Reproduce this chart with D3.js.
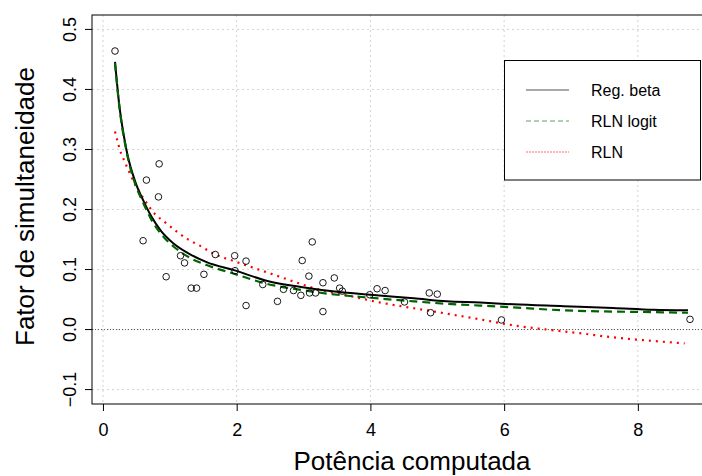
<!DOCTYPE html>
<html>
<head>
<meta charset="utf-8">
<script src="https://cdn.jsdelivr.net/npm/d3@7"></script>
<style>
  body { margin: 0; background: #fff; }
  svg { font-family: "Liberation Sans", Arial, sans-serif; }
</style>
</head>
<body>
<svg id="chart" width="702" height="476"></svg>
<script>
// observed points (potencia, fator)
const pontosX = [0.18, 0.60, 0.65, 0.83, 0.84, 0.945, 1.16, 1.22, 1.32, 1.40, 1.51, 1.68, 1.97, 1.975,
  2.14, 2.14, 2.39, 2.61, 2.70, 2.85, 2.96, 2.98, 3.08, 3.09, 3.13, 3.18, 3.29, 3.29, 3.46, 3.54,
  3.58, 3.99, 4.10, 4.22, 4.51, 4.88, 4.90, 5.00, 5.96, 8.78];
const pontosY = [0.464, 0.148, 0.249, 0.221, 0.276, 0.088, 0.123, 0.111, 0.069, 0.069, 0.092, 0.125, 0.123, 0.098,
  0.114, 0.040, 0.075, 0.047, 0.067, 0.065, 0.057, 0.115, 0.089, 0.061, 0.146, 0.061, 0.078, 0.030, 0.086, 0.069,
  0.064, 0.058, 0.068, 0.065, 0.046, 0.061, 0.028, 0.059, 0.016, 0.017];

// fitted curves
const betaX = [0.18, 0.24, 0.35, 0.49, 0.59, 0.72, 0.87, 1.06, 1.31, 1.56, 1.96, 2.46, 2.96, 3.50, 4.00, 4.65, 5.14, 5.64, 6.14, 6.89, 7.63, 8.23, 8.75];
const betaY = [0.446, 0.378, 0.300, 0.244, 0.218, 0.189, 0.164, 0.143, 0.125, 0.112, 0.099, 0.081, 0.071, 0.063, 0.058, 0.052, 0.047, 0.045, 0.042, 0.039, 0.036, 0.033, 0.032];

const logitX = betaX;
const logitY = [0.444, 0.376, 0.298, 0.240, 0.214, 0.184, 0.159, 0.138, 0.119, 0.107, 0.093, 0.076, 0.066, 0.058, 0.053, 0.047, 0.043, 0.040, 0.037, 0.032, 0.030, 0.029, 0.028];

const rlnX = [0.18, 0.27, 0.32, 0.47, 0.67, 0.72, 0.97, 1.26, 1.46, 1.66, 1.96, 2.46, 2.96, 3.15, 3.65, 4.15, 4.90, 5.64, 6.14, 6.64, 7.13, 7.63, 8.23, 8.70];
const rlnY = [0.330, 0.294, 0.281, 0.244, 0.208, 0.200, 0.175, 0.151, 0.139, 0.126, 0.114, 0.095, 0.076, 0.069, 0.057, 0.045, 0.031, 0.017, 0.007, 0.000, -0.006, -0.013, -0.019, -0.023];

const xTicks = [0, 2, 4, 6, 8];
const yTicks = [-0.1, 0.0, 0.1, 0.2, 0.3, 0.4, 0.5];
const legendLabels = ['Reg. beta', 'RLN logit', 'RLN'];

const svg = d3.select('#chart');

const plotL = 92, plotT = 15, plotR = 713, plotB = 404;

const x = d3.scaleLinear().domain([-0.164, 9.124]).range([plotL, plotR]);
const y = d3.scaleLinear().domain([-0.124, 0.524]).range([plotB, plotT]);

// grid
const grid = svg.append('g');
grid.selectAll('.gx').data(xTicks).join('line')
  .attr('x1', d => x(d)).attr('x2', d => x(d))
  .attr('y1', plotT).attr('y2', plotB)
  .attr('stroke', '#d3d3d3').attr('stroke-dasharray', '2,3');
grid.selectAll('.gy').data(yTicks).join('line')
  .attr('x1', plotL).attr('x2', plotR)
  .attr('y1', d => y(d)).attr('y2', d => y(d))
  .attr('stroke', '#d3d3d3').attr('stroke-dasharray', '2,3');

// zero line
svg.append('line')
  .attr('x1', plotL).attr('x2', plotR)
  .attr('y1', y(0)).attr('y2', y(0))
  .attr('stroke', '#555').attr('stroke-dasharray', '1,2');

// box
svg.append('rect')
  .attr('x', plotL).attr('y', plotT)
  .attr('width', plotR - plotL).attr('height', plotB - plotT)
  .attr('fill', 'none').attr('stroke', '#000');

// axes
const xAxis = d3.axisBottom(x).tickValues(xTicks).tickFormat(d3.format('d')).tickSize(7).tickPadding(12);
const gx = svg.append('g').attr('transform', `translate(0,${plotB})`).call(xAxis);
gx.select('.domain').remove();
gx.selectAll('text').style('font-size', '18px').attr('fill', '#000');

const yAxis = d3.axisLeft(y).tickValues(yTicks).tickFormat(d3.format('.1f')).tickSize(7);
const gy = svg.append('g').attr('transform', `translate(${plotL},0)`).call(yAxis);
gy.select('.domain').remove();
gy.selectAll('.tick').attr('transform', null);
gy.selectAll('.tick line').attr('y1', d => y(d)).attr('y2', d => y(d));
gy.selectAll('text')
  .style('font-size', '18px').attr('fill', '#000')
  .attr('x', null).attr('y', null).attr('dy', null)
  .attr('text-anchor', 'middle')
  .attr('transform', d => `translate(-16,${y(d)}) rotate(-90)`);

// axis titles
svg.append('text')
  .attr('x', 412).attr('y', 470)
  .attr('text-anchor', 'middle')
  .style('font-size', '26px')
  .text('Potência computada');

svg.append('text')
  .attr('transform', `translate(34,${(plotT + plotB) / 2 - 3}) rotate(-90)`)
  .attr('text-anchor', 'middle')
  .style('font-size', '26px')
  .text('Fator de simultaneidade');

// curves
const line = d3.line().x(d => x(d[0])).y(d => y(d[1])).curve(d3.curveMonotoneX);

svg.append('path').datum(d3.zip(rlnX, rlnY))
  .attr('d', line).attr('fill', 'none')
  .attr('stroke', '#ff0000').attr('stroke-width', 2.2).attr('stroke-dasharray', '2,5');

svg.append('path').datum(d3.zip(betaX, betaY))
  .attr('d', line).attr('fill', 'none')
  .attr('stroke', '#000').attr('stroke-width', 2);

svg.append('path').datum(d3.zip(logitX, logitY))
  .attr('d', line).attr('fill', 'none')
  .attr('stroke', '#006400').attr('stroke-width', 2.2).attr('stroke-dasharray', '8,5');

// points
svg.append('g').selectAll('circle').data(d3.zip(pontosX, pontosY)).join('circle')
  .attr('cx', d => x(d[0])).attr('cy', d => y(d[1]))
  .attr('r', 3.3)
  .attr('fill', 'none').attr('stroke', '#000').attr('stroke-width', 0.9);

// legend
const lg = svg.append('g');
lg.append('rect').attr('x', 504.5).attr('y', 60.5).attr('width', 196).attr('height', 119.5)
  .attr('fill', '#fff').attr('stroke', '#000');
const legStroke = ['#555', '#5aa55a', '#ff6b6b'];
const legDash = [null, '5,3', '2,1'];
legendLabels.forEach((lab, i) => {
  const ly = 90 + i * 31;
  lg.append('line').attr('x1', 526).attr('x2', 569).attr('y1', ly).attr('y2', ly)
    .attr('stroke', legStroke[i]).attr('stroke-width', 1.2).attr('stroke-dasharray', legDash[i]);
  lg.append('text').attr('x', 591).attr('y', ly + 6)
    .style('font-size', '16px').text(lab);
});
</script>
</body>
</html>
